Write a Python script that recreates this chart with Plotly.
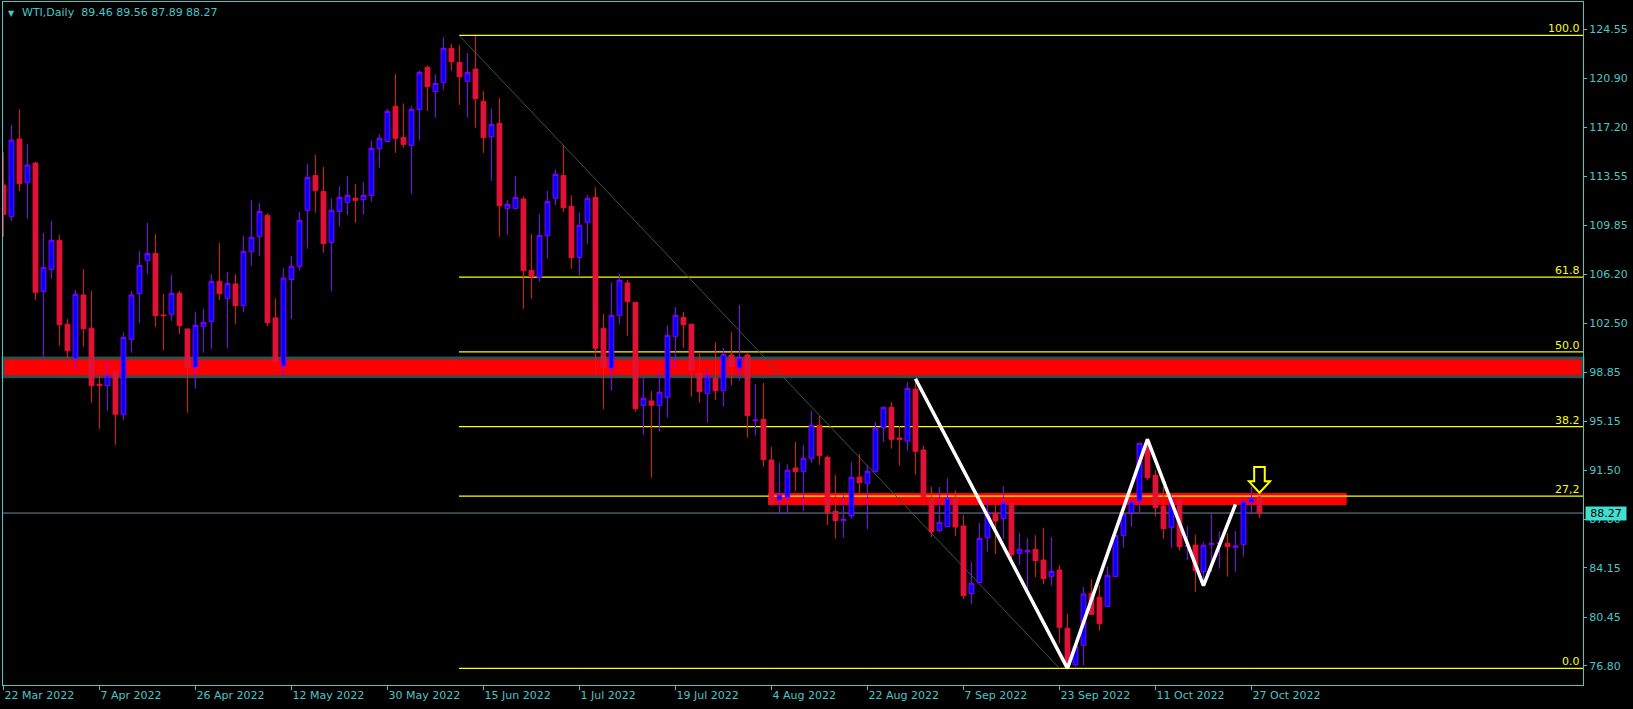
import plotly.graph_objects as go

# ---------------- data ----------------
tick_labels = ["22 Mar 2022", "7 Apr 2022", "26 Apr 2022", "12 May 2022", "30 May 2022",
               "15 Jun 2022", "1 Jul 2022", "19 Jul 2022", "4 Aug 2022", "22 Aug 2022",
               "7 Sep 2022", "23 Sep 2022", "11 Oct 2022", "27 Oct 2022"]
tick_bars = [0, 12, 24, 36, 48, 60, 72, 84, 96, 108, 120, 132, 144, 156]

opens = [112.88, 110.53, 116.33, 113.08, 114.53, 104.90, 106.55, 108.73, 102.43, 99.88,
         104.63, 102.13, 97.93, 97.83, 98.93, 95.68, 101.30, 104.73, 107.23, 107.75,
         103.13, 103.18, 104.75, 102.08, 99.20, 102.28, 102.63, 105.66, 104.38, 105.46,
         103.83, 107.88, 109.03, 110.60, 102.91, 99.30, 105.80, 106.78, 110.98, 113.60,
         112.40, 108.58, 110.90, 111.58, 111.90, 111.80, 112.10, 115.63, 116.15, 118.78,
         116.45, 115.85, 118.55, 121.70, 119.90, 120.58, 123.13, 122.08, 120.66, 121.58,
         119.15, 116.50, 117.50, 111.13, 111.13, 111.83, 106.48, 105.95, 109.08, 111.88,
         113.60, 111.28, 107.45, 110.08, 111.95, 102.13, 99.13, 103.10, 105.53, 104.08,
         96.35, 96.68, 96.35, 96.95, 101.53, 102.95, 102.43, 98.76, 97.23, 98.38,
         97.45, 100.13, 99.13, 100.13, 95.20, 95.30, 92.25, 89.25, 89.45, 91.65,
         91.40, 92.38, 94.85, 92.45, 88.40, 87.70, 88.05, 90.97, 90.50, 91.40,
         94.65, 96.20, 93.90, 93.67, 97.57, 93.00, 89.32, 86.97, 87.25, 89.32,
         87.30, 82.22, 83.05, 86.42, 88.25, 87.85, 89.00, 85.25, 85.37, 85.55,
         84.75, 83.52, 84.00, 79.62, 76.87, 78.35, 82.25, 81.95, 81.27, 83.52,
         86.60, 88.30, 89.17, 93.25, 91.10, 88.80, 87.20, 89.25, 85.75, 85.87,
         83.87, 85.90, 86.00, 86.00, 85.70, 85.92, 89.07, 89.46]
highs = [115.33, 117.38, 118.58, 115.95, 114.60, 109.28, 110.18, 109.13, 102.83, 105.00,
         106.58, 104.93, 98.55, 99.55, 98.95, 101.83, 104.93, 107.93, 110.03, 109.20,
         104.70, 106.13, 104.93, 102.10, 103.35, 103.58, 106.20, 108.53, 106.36, 106.20,
         109.06, 111.76, 111.53, 110.76, 104.37, 106.66, 107.56, 110.86, 114.45, 115.13,
         114.23, 111.90, 112.80, 113.55, 112.95, 113.10, 116.23, 116.70, 118.58, 121.20,
         119.00, 118.80, 121.45, 121.85, 121.18, 123.98, 123.46, 123.38, 122.78, 124.06,
         119.93, 118.63, 119.40, 111.75, 113.55, 112.03, 109.20, 110.70, 112.43, 114.06,
         115.80, 112.10, 110.83, 112.13, 112.70, 103.20, 105.55, 106.20, 105.75, 104.10,
         98.43, 97.43, 98.93, 102.35, 103.73, 103.35, 102.50, 100.33, 99.08, 101.08,
         100.65, 101.85, 103.88, 100.25, 97.95, 98.03, 93.23, 92.03, 91.93, 93.60,
         93.35, 95.95, 95.55, 92.60, 91.12, 89.70, 92.10, 92.70, 91.90, 95.10,
         96.20, 96.60, 94.80, 98.10, 98.20, 93.33, 90.22, 90.22, 90.90, 89.95,
         88.12, 84.60, 87.52, 89.32, 88.92, 90.30, 89.02, 86.77, 86.40, 86.60,
         87.17, 86.47, 84.37, 80.70, 78.75, 82.72, 83.30, 82.85, 84.25, 86.75,
         88.37, 89.25, 93.52, 93.87, 91.50, 90.25, 89.62, 89.25, 87.30, 86.62,
         86.10, 88.20, 86.90, 86.75, 86.92, 89.25, 90.25, 89.56]
lows = [109.00, 110.20, 112.43, 110.35, 104.28, 99.88, 105.85, 100.83, 99.88, 99.00,
        100.73, 96.53, 94.58, 95.93, 93.38, 95.25, 100.30, 102.53, 106.20, 102.23,
        100.50, 102.68, 101.70, 95.80, 97.60, 100.30, 100.58, 104.25, 100.63, 102.45,
        103.33, 106.83, 107.58, 102.30, 99.40, 98.50, 102.83, 106.46, 108.10, 110.81,
        107.80, 104.88, 109.75, 110.63, 110.05, 110.65, 111.63, 114.18, 116.08, 115.30,
        115.68, 112.23, 116.23, 118.43, 117.93, 120.03, 121.46, 118.90, 117.93, 117.18,
        115.30, 113.20, 109.00, 109.15, 111.05, 103.60, 104.33, 105.63, 107.35, 111.38,
        110.85, 106.60, 106.00, 108.46, 98.50, 96.08, 97.45, 102.41, 101.58, 95.88,
        94.15, 90.93, 94.38, 95.43, 99.13, 100.65, 97.00, 96.55, 95.05, 96.75,
        96.25, 97.88, 98.20, 93.93, 94.08, 91.75, 88.83, 88.18, 88.23, 89.93,
        88.43, 92.05, 91.88, 87.38, 86.35, 86.42, 87.85, 89.75, 87.07, 91.30,
        93.60, 93.10, 91.82, 92.95, 91.15, 88.82, 86.47, 86.85, 87.22, 86.55,
        81.82, 81.45, 83.05, 85.37, 85.20, 86.32, 84.75, 84.40, 82.57, 83.45,
        82.95, 82.82, 78.50, 76.62, 76.75, 76.85, 80.62, 79.45, 81.25, 83.50,
        85.67, 87.25, 88.20, 90.75, 88.00, 86.35, 85.67, 85.45, 84.75, 82.37,
        83.20, 83.85, 84.10, 83.50, 83.87, 85.00, 88.15, 87.89]
closes = [110.68, 116.25, 112.98, 114.38, 104.83, 106.70, 108.73, 102.40, 100.45, 104.68,
          102.10, 97.83, 97.83, 98.55, 95.68, 101.45, 104.63, 106.85, 107.75, 103.08,
          103.08, 104.75, 102.33, 99.18, 102.35, 102.58, 105.65, 104.73, 105.50, 103.83,
          107.90, 108.96, 110.90, 102.56, 99.62, 105.90, 106.78, 110.23, 113.45, 112.48,
          108.48, 110.98, 111.95, 112.10, 111.73, 112.10, 115.63, 116.38, 118.40, 116.38,
          115.93, 118.55, 121.33, 120.28, 120.50, 123.13, 122.13, 121.00, 121.33, 119.35,
          116.43, 117.43, 111.33, 111.43, 111.95, 106.45, 106.00, 109.10, 111.65, 113.68,
          111.18, 107.43, 109.86, 111.88, 100.63, 99.20, 103.10, 105.73, 104.13, 96.10,
          96.88, 96.35, 97.33, 101.60, 103.10, 102.40, 99.00, 97.38, 98.53, 97.45,
          100.18, 99.25, 99.95, 95.58, 95.25, 92.28, 88.98, 89.63, 91.48, 91.38,
          92.38, 94.85, 92.58, 88.30, 87.70, 87.80, 90.95, 90.55, 91.40, 94.65,
          96.20, 93.80, 93.80, 97.62, 92.90, 89.50, 86.87, 87.57, 89.40, 87.22,
          82.07, 83.00, 86.37, 88.30, 87.67, 89.07, 85.15, 85.55, 85.47, 84.70,
          83.35, 83.90, 79.70, 76.87, 78.25, 82.20, 80.67, 79.97, 83.60, 86.60,
          88.20, 89.12, 93.50, 90.92, 88.67, 87.10, 89.30, 85.75, 85.80, 83.95,
          85.85, 85.98, 86.05, 85.75, 85.80, 89.15, 89.40, 88.27]
bars = list(range(len(opens)))

price_ticks = [124.55, 120.90, 117.20, 113.55, 109.85, 106.20, 102.50, 98.85,
               95.15, 91.50, 87.80, 84.15, 80.45, 76.80]

fib_high = 124.11
fib_low = 76.62
fib_start_bar = 56.94
fib_end_bar = 132.0
fib_levels = [100.0, 61.8, 50.0, 38.2, 27.2, 0.0]
fib_labels = ["100.0", "61.8", "50.0", "38.2", "27,2", "0.0"]

zz_bars = [114, 133, 143, 150, 154]
zz_prices = [98.35, 76.62, 93.80, 82.82, 88.92]

upper_zone = (98.49, 99.90)
lower_zone = (88.87, 89.77)
lower_zone_bars = (95.56, 167.9)

last_price = 88.27
arrow_bar = 157
arrow_tip_price = 89.80

title_text = "WTI,Daily  89.46 89.56 87.89 88.27"

# ---------------- style ----------------
W, H = 1633, 709
ML, MR, MT, MB = 3, 50, 2, 24
x_range = [-0.06, 197.44]
y_range = [75.37, 126.61]
teal = "#4BC6C6"
font = "DejaVu Sans"

fig = go.Figure()

fig.add_trace(go.Candlestick(
    x=bars, open=opens, high=highs, low=lows, close=closes,
    increasing=dict(line=dict(color="#8B00FF", width=1), fillcolor="#0000FF"),
    decreasing=dict(line=dict(color="#EE1030", width=1), fillcolor="#DC143C"),
    whiskerwidth=0, showlegend=False, hoverinfo="skip"))

fig.add_trace(go.Scatter(
    x=zz_bars, y=zz_prices, mode="lines",
    line=dict(color="white", width=3.5), showlegend=False, hoverinfo="skip"))

shapes = []
shapes.append(dict(type="rect", xref="paper", yref="y", x0=0, x1=1,
                   y0=upper_zone[0], y1=upper_zone[1], fillcolor="#FF0000",
                   line=dict(color="#2F4F4F", width=3), layer="below"))
shapes.append(dict(type="rect", xref="x", yref="y", x0=lower_zone_bars[0], x1=lower_zone_bars[1],
                   y0=lower_zone[0], y1=lower_zone[1], fillcolor="#FF0000",
                   line=dict(width=0), layer="below"))
shapes.append(dict(type="line", xref="paper", yref="y", x0=0, x1=1, y0=last_price, y1=last_price,
                   line=dict(color="#778899", width=1), layer="below"))
for lv in fib_levels:
    p = fib_low + lv / 100.0 * (fib_high - fib_low)
    shapes.append(dict(type="line", xref="x", yref="y", x0=fib_start_bar, x1=x_range[1],
                       y0=p, y1=p, line=dict(color="#FFFF00", width=1.3), layer="below"))
shapes.append(dict(type="line", xref="x", yref="y", x0=fib_start_bar, x1=fib_end_bar,
                   y0=fib_high, y1=fib_low, line=dict(color="#355855", width=1),
                   layer="below"))

px_per_bar = (W - ML - MR) / (x_range[1] - x_range[0])
px_per_price = (H - MT - MB) / (y_range[1] - y_range[0])
def dx(px):
    return px / px_per_bar
def dy(px):
    return px / px_per_price
ax, ay = arrow_bar, arrow_tip_price
pts = [(ax - dx(5.3), ay + dy(25.7)), (ax + dx(5.3), ay + dy(25.7)),
       (ax + dx(5.3), ay + dy(11.3)), (ax + dx(10.5), ay + dy(11.3)),
       (ax, ay), (ax - dx(10.5), ay + dy(11.3)), (ax - dx(5.3), ay + dy(11.3))]
path = "M " + " L ".join(f"{x:.4f},{y:.4f}" for x, y in pts) + " Z"
shapes.append(dict(type="path", xref="x", yref="y", path=path, fillcolor="#000000",
                   line=dict(color="#FFFF00", width=2), layer="above"))

annotations = []
for lv, lab in zip(fib_levels, fib_labels):
    p = fib_low + lv / 100.0 * (fib_high - fib_low)
    annotations.append(dict(x=1, xref="paper", y=p, yref="y", text=lab, showarrow=False,
                            xanchor="right", yanchor="bottom", xshift=-1, yshift=-2,
                            font=dict(family=font, size=11, color="#FFFF00")))
annotations.append(dict(x=1, xref="paper", y=last_price, yref="y", text=f"{last_price:.2f}",
                        showarrow=False, xanchor="left", yanchor="middle", xshift=2,
                        bgcolor="#40E0D0", width=40, height=13, borderpad=0,
                        font=dict(family=font, size=11, color="#000000")))
annotations.append(dict(x=0, xref="paper", y=1, yref="paper", text="▼", showarrow=False,
                        xanchor="left", yanchor="top", xshift=3, yshift=-5,
                        font=dict(family=font, size=8, color=teal)))
annotations.append(dict(x=0, xref="paper", y=1, yref="paper", text=title_text, showarrow=False,
                        xanchor="left", yanchor="top", xshift=17, yshift=-2,
                        font=dict(family=font, size=11, color=teal)))

fig.update_layout(
    width=W, height=H, margin=dict(l=ML, r=MR, t=MT, b=MB),
    paper_bgcolor="#000000", plot_bgcolor="#000000",
    shapes=shapes, annotations=annotations, showlegend=False,
    boxgap=0.4, boxgroupgap=0,
    xaxis=dict(range=x_range, tickmode="array", tickvals=tick_bars, ticktext=tick_labels,
               ticks="outside", ticklen=4, tickcolor=teal, ticklabelposition="outside right",
               showgrid=False, zeroline=False, showline=True, mirror=True, linecolor=teal,
               linewidth=1, rangeslider=dict(visible=False),
               tickfont=dict(family=font, size=11, color=teal)),
    yaxis=dict(range=y_range, side="right", tickmode="array", tickvals=price_ticks,
               ticktext=[f"{v:.2f}" for v in price_ticks], ticks="outside", ticklen=3,
               tickcolor=teal, showgrid=False, zeroline=False, showline=True, mirror=True,
               linecolor=teal, linewidth=1,
               tickfont=dict(family=font, size=11, color=teal)),
)

fig.write_html("out.html", config={"displayModeBar": False},
               post_script="document.body.style.margin='0';document.body.style.padding='0';"
                           "document.body.style.background='#000';")
